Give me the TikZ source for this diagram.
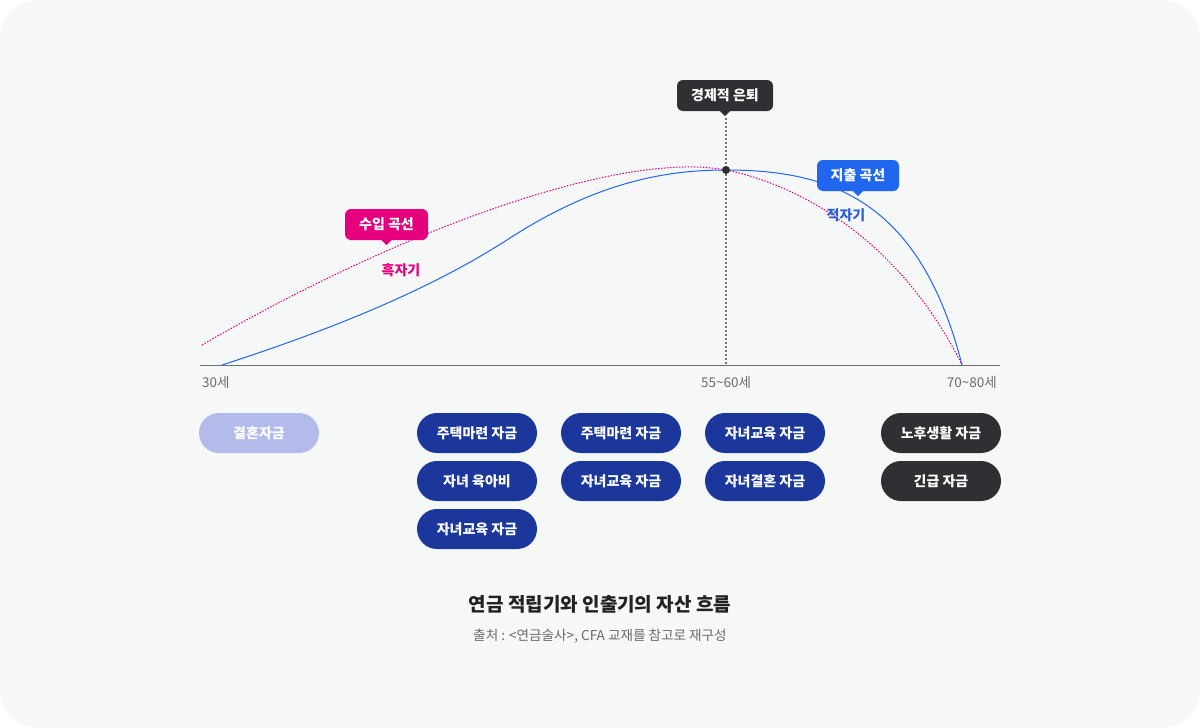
\documentclass[tikz,border=0pt]{standalone}
\usepackage{fontspec}
\setmainfont{Noto Sans CJK KR}
\definecolor{bg}{HTML}{F6F7F7}
\definecolor{darkc}{HTML}{2E3033}
\definecolor{navy}{HTML}{1B379C}
\definecolor{lav}{HTML}{B2BBE9}
\definecolor{mag}{HTML}{E6007E}
\definecolor{bluec}{HTML}{2166EE}
\definecolor{bluet}{HTML}{2B5FD9}
\definecolor{axisc}{HTML}{6E6E73}
\definecolor{labc}{HTML}{6B6B6B}
\definecolor{titlec}{HTML}{222222}
\begin{document}
\begin{tikzpicture}[x=1pt,y=-1pt,
  pill/.style={rounded corners=20pt, minimum width=120pt, minimum height=40pt, text=white, inner sep=0pt, font=\fontsize{14}{16}\selectfont\bfseries},
  tag/.style={rounded corners=6pt, minimum height=31pt, inner sep=0pt, text=white, font=\fontsize{14}{16}\selectfont\bfseries},
  axislab/.style={text=labc, inner sep=0pt, font=\fontsize{13.5}{15}\selectfont},
  zonelab/.style={inner sep=0pt, font=\fontsize{14}{16}\selectfont\bfseries}]
\useasboundingbox (0,0) rectangle (1200,728);
\fill[white] (0,0) rectangle (1200,728);
\fill[bg, rounded corners=40pt] (0,0) rectangle (1200,728);

% axis
\coordinate (ax0) at (200,365);
\coordinate (ax1) at (1000,365);
\draw[axisc, line width=1pt] (ax0) -- (ax1);
\node[axislab, anchor=west] (l30) at (202,382) {30세};
\node[axislab] (l55) at (726,382) {55\textasciitilde60세};
\node[axislab, anchor=east] (l70) at (997,382) {70\textasciitilde80세};

% curve points
\coordinate (bstart) at (222,365);
\coordinate (pstart) at (202,345);
\coordinate (peak) at (726,170);
\coordinate (bend) at (962,365);
\coordinate (vbot) at (726,365);

% retirement callout
\node[tag, fill=darkc, minimum width=96pt] (ret) at (725,95.5) {경제적 은퇴};
\fill[darkc] ([xshift=-5pt]ret.south) -- ([xshift=5pt]ret.south) -- ([yshift=-5pt]ret.south) -- cycle;
\coordinate (vtop) at (726,118);
\draw[axisc, line width=1.3pt, dash pattern=on 2pt off 2pt] (vtop) -- (vbot);

% income curve (pink dotted)
\draw[mag, line width=1pt, dash pattern=on 1.5pt off 1.5pt] (pstart) .. controls (400,230) and (620,150) .. (peak)
   .. controls (800,185) and (900,240) .. (bend);
% spending curve (blue)
\draw[bluec, line width=1pt] (bstart) .. controls (330,330) and (430,290) .. (510,238)
   .. controls (600,180) and (670,170) .. (peak)
   .. controls (830,170) and (920,200) .. (bend);
\fill[darkc] (peak) circle (4pt);

% income tag
\node[tag, fill=mag, minimum width=83pt] (inc) at (386.5,224.5) {수입 곡선};
\fill[mag] ([xshift=-5pt]inc.south) -- ([xshift=5pt]inc.south) -- ([yshift=-5pt]inc.south) -- cycle;
\node[zonelab, text=mag] (surplus) at (401,270) {흑자기};

% spending tag
\node[tag, fill=bluec, minimum width=82pt] (spe) at (858,175.5) {지출 곡선};
\fill[bluec] ([xshift=-5pt]spe.south) -- ([xshift=5pt]spe.south) -- ([yshift=-5pt]spe.south) -- cycle;
\node[zonelab, text=bluet] (deficit) at (846,215) {적자기};

% pills
\node[pill, fill=lav] (p1) at (259,433) {결혼자금};
\node[pill, fill=navy] (p2) at (477,433) {주택마련 자금};
\node[pill, fill=navy] (p3) at (477,481) {자녀 육아비};
\node[pill, fill=navy] (p4) at (477,529) {자녀교육 자금};
\node[pill, fill=navy] (p5) at (621,433) {주택마련 자금};
\node[pill, fill=navy] (p6) at (621,481) {자녀교육 자금};
\node[pill, fill=navy] (p7) at (765,433) {자녀교육 자금};
\node[pill, fill=navy] (p8) at (765,481) {자녀결혼 자금};
\node[pill, fill=darkc] (p9) at (941,433) {노후생활 자금};
\node[pill, fill=darkc] (p10) at (941,481) {긴급 자금};

% title
\node[text=titlec, inner sep=0pt, font=\fontsize{19}{21}\selectfont\bfseries] (title) at (600,604) {연금 적립기와 인출기의 자산 흐름};
\node[text=labc, inner sep=0pt, font=\fontsize{13.6}{15}\selectfont] (src) at (600,636) {출처 : <연금술사>, CFA 교재를 참고로 재구성};
\end{tikzpicture}
\end{document}
